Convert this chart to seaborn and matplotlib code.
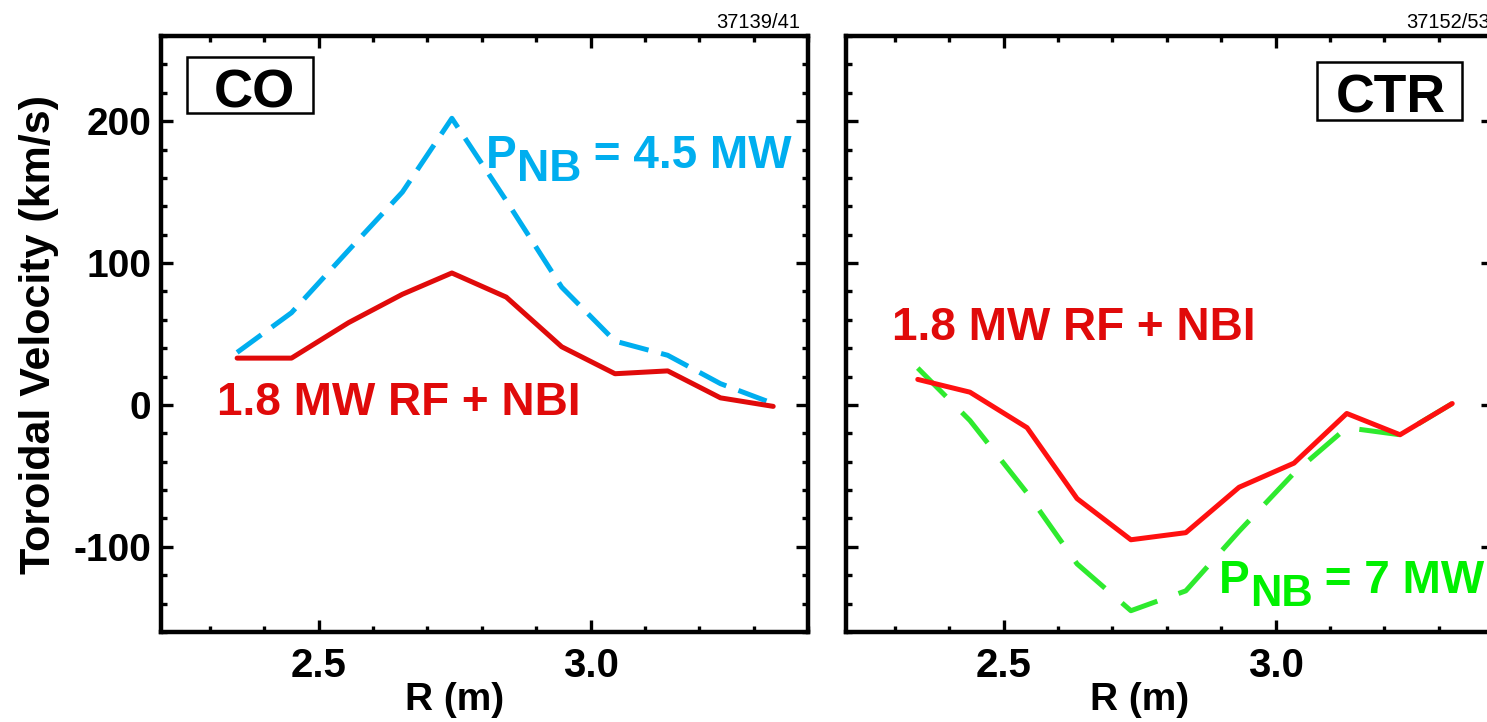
import matplotlib
matplotlib.use("Agg")
import matplotlib.pyplot as plt
import seaborn as sns
import pandas as pd
from matplotlib.ticker import MultipleLocator
from matplotlib.patches import Rectangle

# ---------------- data ----------------
R_co = [2.35, 2.45, 2.555, 2.654, 2.745, 2.845, 2.947, 3.045, 3.142, 3.239, 3.336]
v_co_rf = [33, 33, 58, 78, 93, 76, 41, 22, 24, 5, -1]
v_co_nb = [37, 65, 109, 150, 202, 144, 83, 45, 35, 15, 1]

R_ctr = [2.342, 2.438, 2.543, 2.635, 2.734, 2.835, 2.933, 3.034, 3.131, 3.229, 3.325]
v_ctr_rf = [18, 9, -16, -66, -95, -90, -58, -41, -6, -21, 1]
v_ctr_nb = [26, -11, -62, -112, -145, -131, -89, -48, -16, -21, 1]

shot_labels = ["37139/41", "37152/53"]
panel_labels = ["CO", "CTR"]
y_ticks = [-100, 0, 100, 200]
x_ticks = [2.5, 3.0]

# ---------------- style ----------------
sns.set_style("white")
plt.rcParams['font.family'] = ['Liberation Sans', 'DejaVu Sans']
plt.rcParams['text.color'] = 'black'
plt.rcParams['axes.labelcolor'] = 'black'
plt.rcParams['xtick.color'] = 'black'
plt.rcParams['ytick.color'] = 'black'
plt.rcParams['axes.unicode_minus'] = False

W, H = 1487, 722
fig = plt.figure(figsize=(W / 100, H / 100), dpi=100)
fig.patch.set_facecolor('white')

def ax_rect(x0, y0, x1, y1):
    return [x0 / W, 1 - y1 / H, (x1 - x0) / W, (y1 - y0) / H]

ax1 = fig.add_axes(ax_rect(161, 36, 808, 632))
ax2 = fig.add_axes(ax_rect(846, 36, 1493, 632))

RED_CO = '#E00A0A'
RED_CTR = '#FF1010'
BLUE = '#00AEEF'
GREEN_L = '#2EEA2E'
GREEN_T = '#00F000'

df_co = pd.DataFrame({'R': R_co, 'rf': v_co_rf, 'nb': v_co_nb})
df_ctr = pd.DataFrame({'R': R_ctr, 'rf': v_ctr_rf, 'nb': v_ctr_nb})

sns.lineplot(data=df_co, x='R', y='nb', ax=ax1, color=BLUE, linewidth=3.6)
ax1.lines[-1].set_dashes([6, 2.6])
sns.lineplot(data=df_co, x='R', y='rf', ax=ax1, color=RED_CO, linewidth=3.6)

sns.lineplot(data=df_ctr, x='R', y='nb', ax=ax2, color=GREEN_L, linewidth=3.6)
ax2.lines[-1].set_dashes([8, 4.5])
sns.lineplot(data=df_ctr, x='R', y='rf', ax=ax2, color=RED_CTR, linewidth=3.6)

for i, ax in enumerate([ax1, ax2]):
    ax.set_xlim(2.21, 3.40)
    ax.set_ylim(-160, 260)
    ax.set_xticks(x_ticks)
    ax.set_xticklabels(['%.1f' % t for t in x_ticks])
    ax.xaxis.set_minor_locator(MultipleLocator(0.1))
    ax.set_yticks(y_ticks)
    ax.set_yticklabels(['%d' % t for t in y_ticks])
    ax.yaxis.set_minor_locator(MultipleLocator(20))
    ax.tick_params(which='both', direction='in', top=True, right=True,
                   bottom=True, left=True, width=2.4, color='black')
    ax.tick_params(which='major', length=8.5)
    ax.tick_params(which='minor', length=4.5)
    ax.tick_params(axis='x', which='major', pad=11, labelsize=29)
    ax.tick_params(axis='y', which='major', pad=7, labelsize=28)
    for lab in ax.get_xticklabels() + ax.get_yticklabels():
        lab.set_fontweight('bold')
    for sp in ax.spines.values():
        sp.set_linewidth(3.2)
        sp.set_color('black')
        sp.set_visible(True)
    ax.set_xlabel('R (m)', fontsize=28, fontweight='bold')
    ax.xaxis.set_label_coords(0.454, -0.084)
    ax.set_ylabel('')
    ax.set_facecolor('white')

ax1.set_ylabel('Toroidal Velocity (km/s)', fontsize=31, fontweight='bold')
ax1.yaxis.set_label_coords(-0.158, 0.50)
ax2.tick_params(axis='y', labelleft=False)

# shot numbers
fig.text(800 / W, 1 - 28 / H, shot_labels[0], ha='right', va='baseline',
         fontsize=14.5)
fig.text(1490 / W, 1 - 28 / H, shot_labels[1], ha='right', va='baseline',
         fontsize=14.5)

# boxed panel labels
def box_label(ax, x0, y0, x1, y1, text, cx, cy, size):
    ax.add_patch(Rectangle((x0 / W, 1 - y1 / H), (x1 - x0) / W, (y1 - y0) / H,
                           transform=fig.transFigure, fill=True, fc='white',
                           ec='black', lw=1.8, clip_on=False, zorder=5))
    fig.text(cx / W, 1 - cy / H, text, ha='center', va='center_baseline',
             fontsize=size, fontweight='bold', zorder=6)

box_label(ax1, 187, 57, 313, 113, panel_labels[0], 254, 88, 39)
box_label(ax2, 1317, 62, 1462, 120, panel_labels[1], 1391, 93, 38.5)

# rich text (P with NB subscript)
renderer = fig.canvas.get_renderer()

def rich(x_px, y_px, pieces, color, size):
    x = x_px
    for txt, dy, sf in pieces:
        t = fig.text(x / W, 1 - (y_px + dy) / H, txt, color=color,
                     fontsize=size * sf, fontweight='bold', ha='left',
                     va='baseline')
        bb = t.get_window_extent(renderer)
        x += bb.width

rich(486, 168, [('P', 0, 1.0), ('NB', 13, 0.97), (' = 4.5 MW', 0, 1.0)], BLUE, 33)
rich(1219, 593, [('P', 0, 1.0), ('NB', 13, 0.95), (' = 7 MW', 0, 1.0)], GREEN_T, 33)

fig.text(217 / W, 1 - 415 / H, '1.8 MW RF + NBI', color=RED_CO, fontsize=33,
         fontweight='bold', ha='left', va='baseline')
fig.text(892 / W, 1 - 340 / H, '1.8 MW RF + NBI', color=RED_CO, fontsize=33,
         fontweight='bold', ha='left', va='baseline')

fig.savefig('out.png', dpi=100, facecolor='white')
